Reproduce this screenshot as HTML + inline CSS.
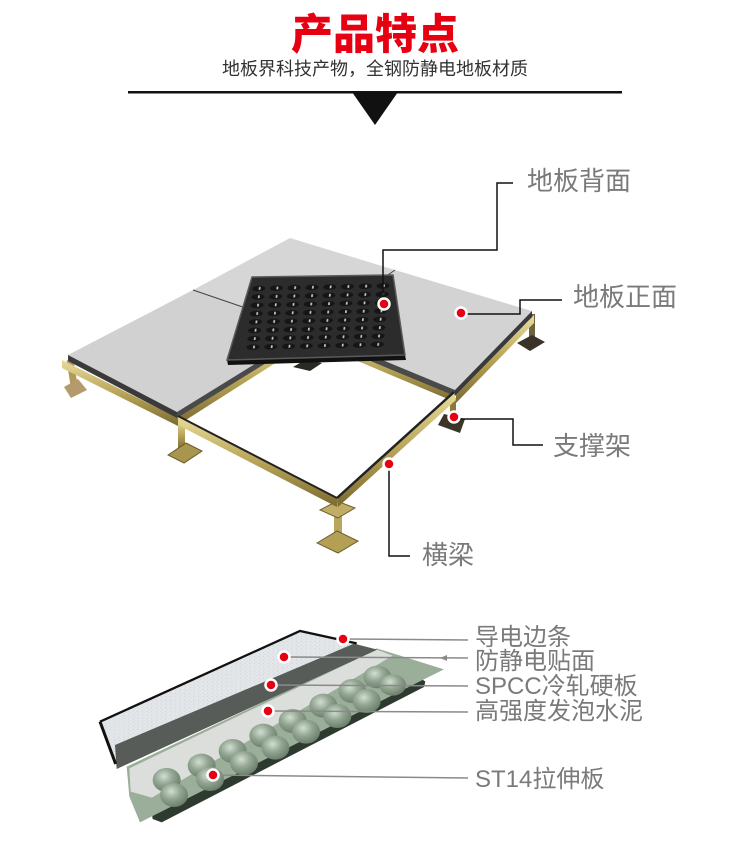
<!DOCTYPE html>
<html><head><meta charset="utf-8">
<style>
html,body{margin:0;padding:0;background:#fff;}
svg{display:block;}
text{font-family:"Liberation Sans","Noto Sans CJK SC",sans-serif;}
</style></head><body>
<svg width="750" height="851" viewBox="0 0 750 851" xmlns="http://www.w3.org/2000/svg">
<defs>
<linearGradient id="brass" x1="0" y1="0" x2="0" y2="1">
<stop offset="0" stop-color="#e8dc9c"/><stop offset="0.5" stop-color="#b8a458"/><stop offset="1" stop-color="#7a6a30"/>
</linearGradient>
<pattern id="bumps" patternUnits="userSpaceOnUse" width="12.5" height="12.5">
<rect width="12.5" height="12.5" fill="#2c2c2c"/>
<ellipse cx="6.25" cy="6.25" rx="4.6" ry="4.3" fill="#151515"/>
<rect x="6.3" y="4" width="1.2" height="4.2" fill="#c8c8c8"/>
</pattern>
<pattern id="speck" patternUnits="userSpaceOnUse" width="14" height="11">
<rect width="14" height="11" fill="#e4e7ea"/>
<circle cx="3" cy="3" r="1.6" fill="#c4c9cf"/>
<circle cx="10" cy="7" r="1.3" fill="#cdd2d8"/>
<circle cx="6" cy="9" r="0.9" fill="#b9bfc6"/>
</pattern>
<radialGradient id="dome" cx="0.4" cy="0.35" r="0.65">
<stop offset="0" stop-color="#d2ded2"/><stop offset="0.5" stop-color="#93a693"/><stop offset="1" stop-color="#6c806c"/>
</radialGradient>
<clipPath id="blk"><polygon points="254,281 390,279 401,351 232,356"/></clipPath>
</defs>

<!-- Header -->
<text x="375" y="49" font-size="42" font-weight="900" fill="#e60012" text-anchor="middle">产品特点</text>
<text x="375" y="75" font-size="18" fill="#333" text-anchor="middle">地板界科技产物，全钢防静电地板材质</text>
<rect x="128" y="91" width="494" height="2.5" fill="#111"/>
<polygon points="352,92 398,92 375,125" fill="#111"/>

<!-- Floor: back legs -->
<rect x="304" y="350" width="6" height="14" fill="#8a7a3a"/>
<polygon points="293,367 305,360 322,363 310,371" fill="#2a2a22"/>
<rect x="529" y="314" width="6" height="28" fill="#6e6240"/>
<polygon points="517,343 532,335 545,342 530,351" fill="#3a3428"/>
<line x1="70" y1="360" x2="74" y2="385" stroke="#b19a5c" stroke-width="7"/>
<polygon points="64,387 78,379 87,390 71,398" fill="#b49a6c"/>

<!-- stringers under tiles -->
<polygon points="62,360 180,419 180,427 62,368" fill="url(#brass)"/>
<polygon points="534,315 456,395 456,403 534,323" fill="url(#brass)"/>
<polygon points="178,417 310,334 310,341 178,425" fill="url(#brass)"/>
<polygon points="310,334 455,395 455,402 310,341" fill="url(#brass)"/>

<!-- tiles -->
<polygon points="193,290 290,238 395,270 310,330" fill="#d6d6d6"/>
<polygon points="68,355 193,290 310,330 177,412" fill="#d1d1d1"/>
<polygon points="395,270 532,311 455,390 310,330" fill="#d3d3d3"/>
<polyline points="193,290 310,330 395,270" stroke="#444" stroke-width="1" fill="none"/>
<polygon points="68,355 177,412 177,418 68,361" fill="#3a3a3a"/>
<polygon points="177,412 310,330 310,336 177,418" fill="#4a4a4a"/>
<polygon points="532,311 455,390 455,396 532,317" fill="#3a3a3a"/>
<polygon points="455,390 310,330 310,336 455,396" fill="#4a4a4a"/>

<!-- black back-side tile -->
<polygon points="227,360 405,355 406,360 228,365" fill="#111"/>
<polygon points="252,277 393,275 405,355 227,360" fill="#2c2c2c" stroke="#5a5a5a" stroke-width="1.5"/>
<g clip-path="url(#blk)">
<g transform="matrix(1.42,-0.03,-0.065,0.67,250.25,284.5)"><rect width="100" height="100" fill="url(#bumps)"/></g>
</g>

<!-- front legs & stringers -->
<rect x="178" y="420" width="7" height="30" fill="url(#brass)"/>
<polygon points="168,455 186,443 202,451 184,463" fill="#a8964e" stroke="#6a5a28"/>
<rect x="334" y="510" width="8" height="28" fill="#b8a560"/>
<polygon points="317,543 337,531 358,541 338,553" fill="#b3a055" stroke="#6e5f2a"/>
<polygon points="320,510 337,501 355,508 338,518" fill="#c0ad66" stroke="#6e5f2a"/>
<rect x="450" y="398" width="6" height="20" fill="#8a7a3a"/>
<polygon points="438,425 444,414 465,419 460,433" fill="#3a3526"/>
<polygon points="178,416 337,498 337,507 178,425" fill="url(#brass)"/>
<line x1="178" y1="416" x2="337" y2="498" stroke="#222" stroke-width="2"/>
<polygon points="337,498 454,392 456,400 338,507" fill="url(#brass)"/>
<line x1="337" y1="498" x2="454" y2="392" stroke="#222" stroke-width="2.5"/>

<!-- floor leaders -->
<g stroke="#111" stroke-width="1.5" fill="none">
<polyline points="513,183 497,183 497,250 383,250 383,300"/>
<polyline points="562,300 520,300 520,314 466,314"/>
<polyline points="459,419 513,419 513,445 543,445"/>
<polyline points="389,464 389,556 410,556"/>
</g>
<g fill="#e60012" stroke="#fff" stroke-width="2.5">
<circle cx="384" cy="304" r="5.5"/>
<circle cx="461" cy="313" r="5.5"/>
<circle cx="454" cy="417" r="5.5"/>
<circle cx="389" cy="464" r="5.5"/>
</g>
<g font-size="26" fill="#7a7a7a">
<text x="527" y="190">地板背面</text>
<text x="573" y="306">地板正面</text>
<text x="553" y="455">支撑架</text>
<text x="422" y="564">横梁</text>
</g>

<!-- Bottom layered panel -->
<g transform="translate(90,615) scale(0.33333)">
<polygon points="185,592 990,188 1006,200 1002,216 215,622 188,612" fill="#2e3a30"/>
<polygon points="110,455 860,100 1062,163 988,200 150,622 118,545" fill="#9aae9a"/>
<polygon points="118,460 860,104 908,122 186,548 122,530" fill="#dcdedc"/>
<g fill="url(#dome)">
<ellipse cx="230" cy="495" rx="42" ry="36"/>
<ellipse cx="335" cy="452" rx="42" ry="36"/>
<ellipse cx="428" cy="408" rx="42" ry="36"/>
<ellipse cx="520" cy="362" rx="42" ry="36"/>
<ellipse cx="608" cy="318" rx="42" ry="36"/>
<ellipse cx="700" cy="272" rx="42" ry="36"/>
<ellipse cx="787" cy="228" rx="42" ry="36"/>
<ellipse cx="862" cy="186" rx="42" ry="34"/>
<ellipse cx="252" cy="540" rx="42" ry="36"/>
<ellipse cx="360" cy="492" rx="42" ry="36"/>
<ellipse cx="462" cy="444" rx="42" ry="36"/>
<ellipse cx="556" cy="398" rx="42" ry="36"/>
<ellipse cx="648" cy="350" rx="42" ry="36"/>
<ellipse cx="742" cy="303" rx="42" ry="36"/>
<ellipse cx="830" cy="258" rx="42" ry="36"/>
<ellipse cx="908" cy="210" rx="40" ry="32"/>
</g>
<polygon points="35,322 630,52 795,87 78,390 80,448" fill="url(#speck)"/>
<polygon points="75,390 792,86 862,104 80,462" fill="#585c58"/>
<polyline points="30,320 630,48 800,85" stroke="#111" stroke-width="7" fill="none"/>
<line x1="30" y1="320" x2="77" y2="447" stroke="#111" stroke-width="9"/>
</g>

<!-- bottom leaders -->
<g stroke="#8a8a8a" stroke-width="1.5">
<line x1="343" y1="639" x2="468" y2="640"/>
<line x1="284" y1="657" x2="468" y2="658"/>
<line x1="271" y1="685" x2="468" y2="686"/>
<line x1="268" y1="711" x2="468" y2="712"/>
<line x1="213" y1="775" x2="468" y2="778"/>
</g>
<polygon points="440,658 447,655 447,661" fill="#8a8a8a"/>
<g fill="#e60012" stroke="#fff" stroke-width="2.5">
<circle cx="343" cy="639" r="5.5"/>
<circle cx="284" cy="657" r="5.5"/>
<circle cx="271" cy="685" r="5.5"/>
<circle cx="268" cy="711" r="5.5"/>
<circle cx="213" cy="775" r="5.5"/>
</g>
<g font-size="24" fill="#7a7a7a">
<text x="475" y="645">导电边条</text>
<text x="475" y="669">防静电贴面</text>
<text x="475" y="694">SPCC冷轧硬板</text>
<text x="475" y="719">高强度发泡水泥</text>
<text x="475" y="787">ST14拉伸板</text>
</g>
</svg>
</body></html>
